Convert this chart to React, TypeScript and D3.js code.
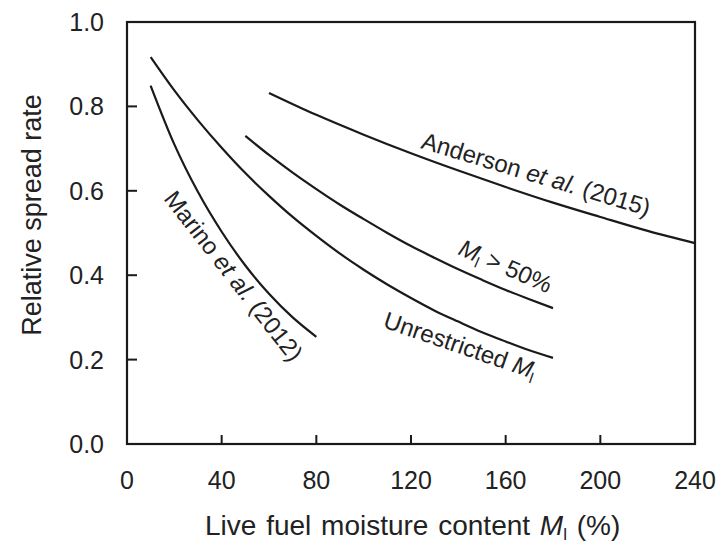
import React from 'react';
import * as d3 from 'd3';

const xTicks = [0, 40, 80, 120, 160, 200, 240];
const yTicks = [0, 0.2, 0.4, 0.6, 0.8, 1.0];

const marinoM = [10, 20, 30, 40, 50, 60, 70, 80];
const marinoR = [0.849, 0.71, 0.597, 0.503, 0.423, 0.356, 0.3, 0.254];

const unrestrictedM = [10, 20, 30, 40, 50, 60, 70, 80, 90, 100, 110, 120, 130, 140, 150, 160, 170, 180];
const unrestrictedR = [0.917, 0.838, 0.767, 0.702, 0.642, 0.588, 0.538, 0.493, 0.451, 0.413, 0.378, 0.346, 0.316, 0.29, 0.265, 0.243, 0.222, 0.204];

const above50M = [50, 60, 70, 80, 90, 100, 110, 120, 130, 140, 150, 160, 170, 180];
const above50R = [0.73, 0.685, 0.643, 0.604, 0.567, 0.533, 0.5, 0.469, 0.441, 0.414, 0.389, 0.365, 0.343, 0.322];

const andersonM = [60, 80, 100, 120, 140, 160, 180, 200, 220, 240];
const andersonR = [0.832, 0.78, 0.733, 0.689, 0.648, 0.609, 0.572, 0.538, 0.505, 0.476];

const W = 723;
const H = 543;
const left = 127;
const right = 695;
const top = 22;
const bottom = 444;

const FONT = '"Liberation Sans", Arial, Helvetica, sans-serif';
const INK = '#1a1a1a';

export default function App() {
  const x = d3.scaleLinear().domain([0, 240]).range([left, right]);
  const y = d3.scaleLinear().domain([0, 1]).range([bottom, top]);

  const line = d3
    .line<[number, number]>()
    .x((d) => x(d[0]))
    .y((d) => y(d[1]))
    .curve(d3.curveMonotoneX);

  const series = [
    { m: marinoM, r: marinoR },
    { m: unrestrictedM, r: unrestrictedR },
    { m: above50M, r: above50R },
    { m: andersonM, r: andersonR },
  ];

  return (
    <svg
      width={W}
      height={H}
      viewBox={`0 0 ${W} ${H}`}
      style={{ position: 'absolute', left: 0, top: 0, background: '#fff' }}
      fontFamily={FONT}
    >
      <rect x={0} y={0} width={W} height={H} fill="#fff" />
      {/* curves */}
      {series.map((s, i) => (
        <path
          key={i}
          d={line(s.m.map((v, j) => [v, s.r[j]] as [number, number])) || ''}
          fill="none"
          stroke={INK}
          strokeWidth={2.2}
        />
      ))}

      {/* frame */}
      <rect x={left} y={top} width={right - left} height={bottom - top} fill="none" stroke={INK} strokeWidth={2.2} />

      {/* x ticks */}
      {xTicks.map((t) => (
        <g key={'x' + t}>
          <line x1={x(t)} x2={x(t)} y1={bottom} y2={bottom - 9} stroke={INK} strokeWidth={2} />
          <text x={x(t)} y={489} fontSize={25} textAnchor="middle" fill="#222">
            {t}
          </text>
        </g>
      ))}

      {/* y ticks */}
      {yTicks.map((t) => (
        <g key={'y' + t}>
          <line x1={left} x2={left + 10} y1={y(t)} y2={y(t)} stroke={INK} strokeWidth={2} />
          <text x={104} y={y(t) + 9} fontSize={25} textAnchor="end" fill="#222">
            {t.toFixed(1)}
          </text>
        </g>
      ))}

      {/* axis titles */}
      <text x={205} y={535} fontSize={28} fill="#222" wordSpacing={2}>
        <tspan>Live fuel moisture content </tspan>
        <tspan fontStyle="italic">M</tspan>
        <tspan fontSize={17} dy={5}>l</tspan>
        <tspan dy={-5}> (%)</tspan>
      </text>
      <text transform="translate(41,215) rotate(-90)" fontSize={27} textAnchor="middle" fill="#222">
        Relative spread rate
      </text>

      {/* annotations */}
      <text transform="translate(420,148) rotate(16.7)" fontSize={24} fill="#222">
        <tspan>{'Anderson '}</tspan>
        <tspan fontStyle="italic">et al.</tspan>
        <tspan>{' (2015)'}</tspan>
      </text>
      <text transform="translate(163,199) rotate(52)" fontSize={24} fill="#222">
        <tspan>{'Marino '}</tspan>
        <tspan fontStyle="italic">et al.</tspan>
        <tspan>{' (2012)'}</tspan>
      </text>
      <text transform="translate(457,254) rotate(23.6)" fontSize={24} fill="#222">
        <tspan fontStyle="italic">M</tspan>
        <tspan fontSize={15} dy={5}>l</tspan>
        <tspan dy={-5}>{' > 50%'}</tspan>
      </text>
      <text transform="translate(382,327) rotate(19)" fontSize={24} fill="#222">
        <tspan>{'Unrestricted '}</tspan>
        <tspan fontStyle="italic">M</tspan>
        <tspan fontSize={15} dy={5}>l</tspan>
      </text>
    </svg>
  );
}
